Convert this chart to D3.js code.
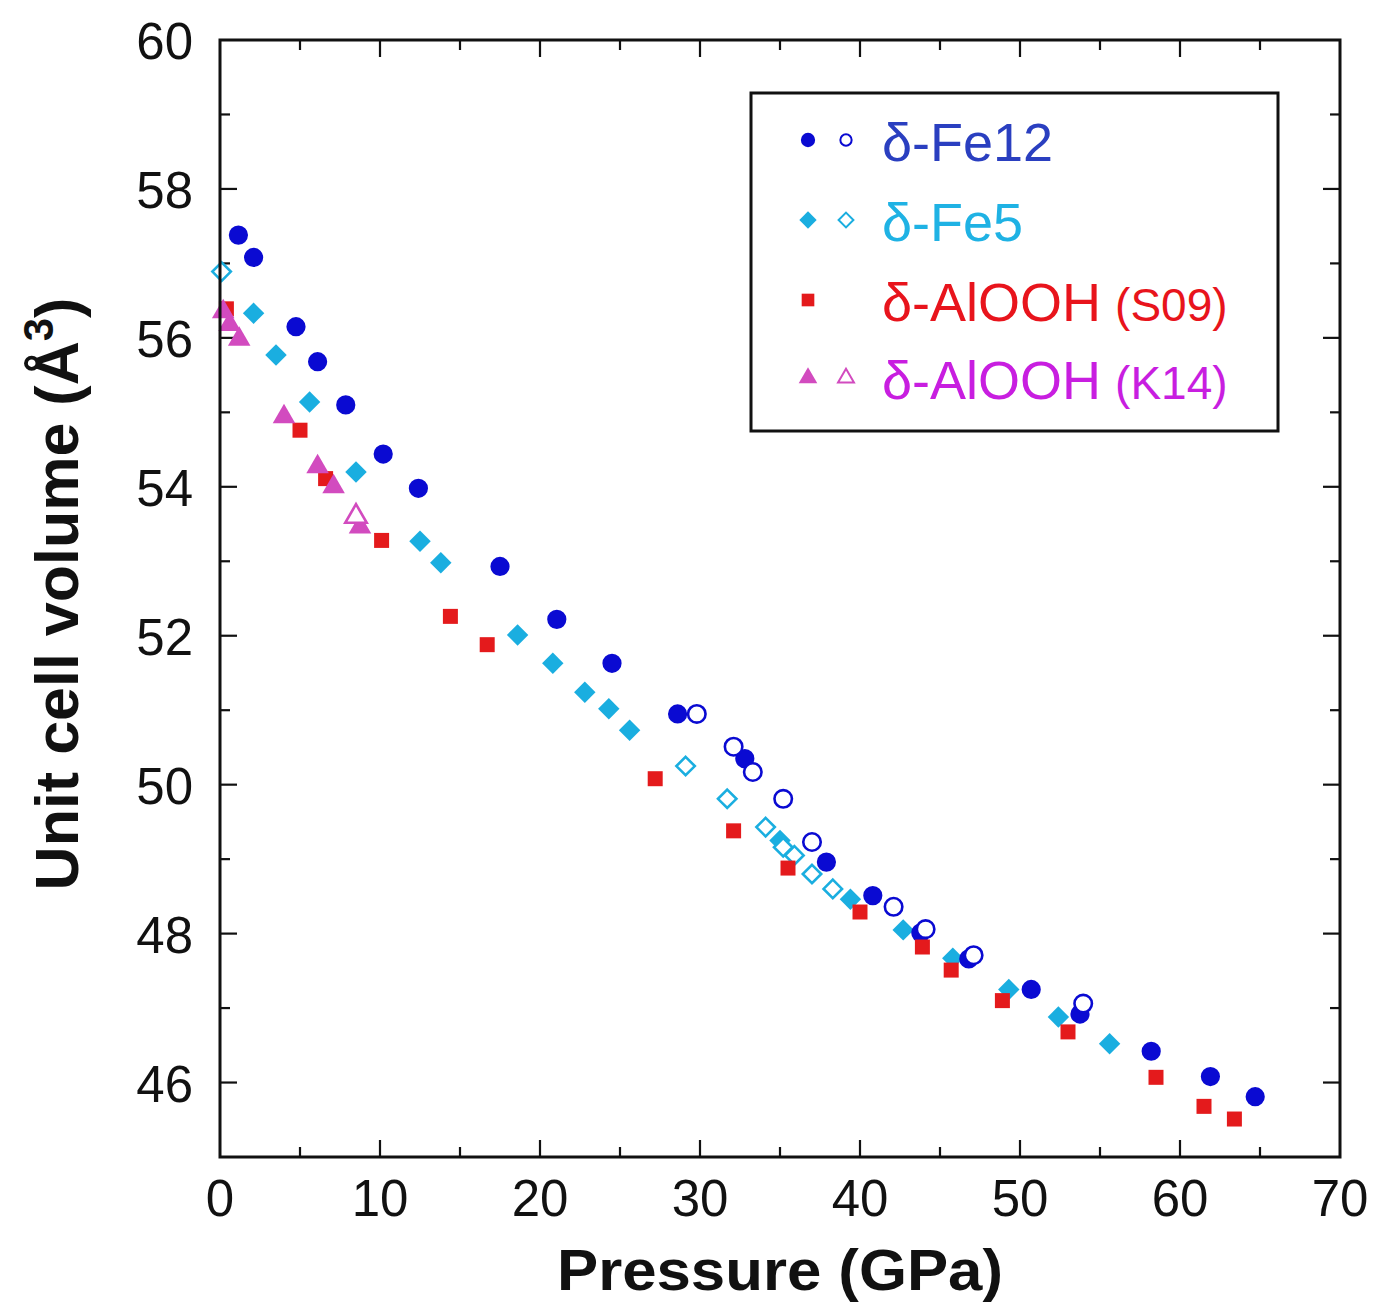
<!DOCTYPE html>
<html>
<head>
<meta charset="utf-8">
<script src="https://cdn.jsdelivr.net/npm/d3@7"></script>
<style>
  html, body { margin: 0; padding: 0; background: #fff; }
  svg { display: block; font-family: "Liberation Sans", Arial, sans-serif; }
</style>
</head>
<body>
<svg id="chart" width="1374" height="1307"></svg>
<script>
// Unit cell volume of δ-phase oxyhydroxides against pressure.
// Each array holds [pressure (GPa), volume (Å^3)] pairs.
const fe12Filled = [
  [1.15, 57.38], [2.1, 57.08], [4.75, 56.15], [6.1, 55.68], [7.86, 55.10],
  [10.2, 54.44], [12.4, 53.98], [17.5, 52.93], [21.05, 52.22], [24.5, 51.63],
  [28.6, 50.95], [32.8, 50.35], [37.9, 48.96], [40.8, 48.51], [43.8, 48.01],
  [46.8, 47.66], [50.7, 47.25], [53.75, 46.92], [58.2, 46.42], [61.9, 46.08],
  [64.7, 45.81]
];
const fe12Open = [
  [29.8, 50.95], [32.1, 50.51], [33.3, 50.17], [35.2, 49.81], [37.0, 49.23],
  [42.1, 48.36], [44.1, 48.06], [47.1, 47.71], [53.95, 47.06]
];
const fe5Filled = [
  [2.1, 56.33], [3.5, 55.77], [5.6, 55.14], [8.5, 54.20], [12.5, 53.27],
  [13.8, 52.98], [18.6, 52.01], [20.8, 51.63], [22.8, 51.24], [24.3, 51.02],
  [25.6, 50.73], [35.0, 49.25], [39.4, 48.46], [42.7, 48.05], [45.8, 47.67],
  [49.3, 47.25], [52.4, 46.88], [55.6, 46.52]
];
const fe5Open = [
  [0.1, 56.89], [29.1, 50.25], [31.7, 49.81], [34.1, 49.43], [35.2, 49.16],
  [35.9, 49.05], [37.0, 48.80], [38.3, 48.60]
];
const s09Filled = [
  [0.4, 56.39], [5.0, 54.76], [6.6, 54.11], [10.1, 53.28], [14.4, 52.26],
  [16.7, 51.88], [27.2, 50.08], [32.1, 49.38], [35.5, 48.88], [40.0, 48.29],
  [43.9, 47.82], [45.7, 47.51], [48.9, 47.10], [53.0, 46.68], [58.5, 46.07],
  [61.5, 45.68], [63.4, 45.51]
];
const k14Filled = [
  [0.2, 56.35], [0.6, 56.18], [1.2, 55.98], [4.0, 54.94], [6.1, 54.27],
  [7.1, 54.00], [8.75, 53.46]
];
const k14Open = [
  [8.5, 53.60]
];

const xTicks = [0, 10, 20, 30, 40, 50, 60, 70];
const yTicks = [46, 48, 50, 52, 54, 56, 58, 60];

const legendItems = [
  { label: "δ-Fe12", note: "", color: "#2a3fc0" },
  { label: "δ-Fe5", note: "", color: "#1fb2e4" },
  { label: "δ-AlOOH", note: "(S09)", color: "#e8141c" },
  { label: "δ-AlOOH", note: "(K14)", color: "#c81ee0" }
];

const C_FE12 = "#0a0ad2";
const C_FE5 = "#1aaee0";
const C_S09 = "#e41a1c";
const C_K14 = "#d24bbf";

const svg = d3.select("#chart");
const plotL = 220, plotR = 1340, plotT = 40, plotB = 1157;

const x = d3.scaleLinear().domain([0, 70]).range([plotL, plotR]);
const y = d3.scaleLinear().domain([45, 60]).range([plotB, plotT]);

// Square rotated by 45° (equal diagonals), used for the δ-Fe5 points
const symbolRhomb = {
  draw(ctx, size) {
    const h = Math.sqrt(size / 2);
    ctx.moveTo(0, -h); ctx.lineTo(h, 0); ctx.lineTo(0, h); ctx.lineTo(-h, 0); ctx.closePath();
  }
};

// Tick marks on all four sides, pointing inward
const axisG = svg.append("g");
const tickStyle = sel => sel.attr("stroke", "#111").attr("stroke-width", 2.2);
const MAJ = 17, MIN = 10;

d3.range(5, 70, 5).forEach(v => {
  const len = v % 10 === 0 ? MAJ : MIN;
  axisG.append("line").attr("x1", x(v)).attr("x2", x(v)).attr("y1", plotB).attr("y2", plotB - len).call(tickStyle);
  axisG.append("line").attr("x1", x(v)).attr("x2", x(v)).attr("y1", plotT).attr("y2", plotT + len).call(tickStyle);
});
d3.range(46, 60, 1).forEach(v => {
  const len = v % 2 === 0 ? MAJ : MIN;
  axisG.append("line").attr("x1", plotL).attr("x2", plotL + len).attr("y1", y(v)).attr("y2", y(v)).call(tickStyle);
  axisG.append("line").attr("x1", plotR).attr("x2", plotR - len).attr("y1", y(v)).attr("y2", y(v)).call(tickStyle);
});

// Tick labels
axisG.selectAll(".xl").data(xTicks).join("text")
  .attr("class", "xl")
  .attr("x", d => x(d)).attr("y", 1216)
  .attr("text-anchor", "middle").attr("font-size", 51).attr("fill", "#111")
  .text(d => d);
axisG.selectAll(".yl").data(yTicks).join("text")
  .attr("class", "yl")
  .attr("x", 193).attr("y", d => y(d) + 19)
  .attr("text-anchor", "end").attr("font-size", 51).attr("fill", "#111")
  .text(d => d);

// Axis titles
svg.append("text")
  .attr("x", 780).attr("y", 1290).attr("text-anchor", "middle")
  .attr("font-size", 58).attr("font-weight", "bold").attr("fill", "#111")
  .attr("textLength", 446).attr("lengthAdjust", "spacingAndGlyphs")
  .text("Pressure (GPa)");

const yTitle = svg.append("text")
  .attr("transform", "translate(78,594) rotate(-90)")
  .attr("text-anchor", "middle")
  .attr("font-size", 61).attr("font-weight", "bold").attr("fill", "#111");
yTitle.append("tspan").text("Unit cell volume (Å");
yTitle.append("tspan").attr("font-size", 42).attr("dy", -25).text("3");
yTitle.append("tspan").attr("dy", 25).text(")");

// Data markers
const sym = (type, size) => d3.symbol().type(type).size(size)();
const plotG = svg.append("g");

function drawSeries(data, type, size, fill, stroke, sw) {
  plotG.append("g").selectAll("path").data(data).join("path")
    .attr("transform", d => `translate(${x(d[0])},${y(d[1])})`)
    .attr("d", sym(type, size))
    .attr("fill", fill)
    .attr("stroke", stroke)
    .attr("stroke-width", sw);
}

drawSeries(fe5Filled, symbolRhomb, 230, C_FE5, "none", 0);
drawSeries(fe5Open, symbolRhomb, 170, "#fff", C_FE5, 2.6);
drawSeries(fe12Filled, d3.symbolCircle, 290, C_FE12, "none", 0);
drawSeries(fe12Open, d3.symbolCircle, 240, "#fff", C_FE12, 2.6);
drawSeries(s09Filled, d3.symbolSquare, 225, C_S09, "none", 0);
drawSeries(k14Filled, d3.symbolTriangle, 220, C_K14, "none", 0);
drawSeries(k14Open, d3.symbolTriangle, 200, "#fff", C_K14, 2.6);

// Frame
svg.append("rect")
  .attr("x", plotL).attr("y", plotT).attr("width", plotR - plotL).attr("height", plotB - plotT)
  .attr("fill", "none").attr("stroke", "#111").attr("stroke-width", 3);

// Legend
const lg = svg.append("g");
lg.append("rect")
  .attr("x", 751).attr("y", 93).attr("width", 527).attr("height", 338)
  .attr("fill", "#fff").attr("stroke", "#111").attr("stroke-width", 3);

const rowY = [140, 220, 300, 378];
const legendMarks = [
  [[d3.symbolCircle, 160, C_FE12, "none", 0], [d3.symbolCircle, 100, "#fff", C_FE12, 2]],
  [[symbolRhomb, 150, C_FE5, "none", 0], [symbolRhomb, 110, "#fff", C_FE5, 2]],
  [[d3.symbolSquare, 160, C_S09, "none", 0]],
  [[d3.symbolTriangle, 150, C_K14, "none", 0], [d3.symbolTriangle, 110, "#fff", C_K14, 2]]
];
legendMarks.forEach((marks, i) => {
  marks.forEach((m, j) => {
    lg.append("path")
      .attr("transform", `translate(${j === 0 ? 808 : 846},${rowY[i]})`)
      .attr("d", sym(m[0], m[1]))
      .attr("fill", m[2]).attr("stroke", m[3]).attr("stroke-width", m[4]);
  });
});

legendItems.forEach((d, i) => {
  const t = lg.append("text")
    .attr("x", 882).attr("y", rowY[i] + 21)
    .attr("font-size", 54).attr("fill", d.color);
  t.append("tspan").text(d.label);
  if (d.note) t.append("tspan").attr("font-size", 46).attr("dx", 14).text(d.note);
});
</script>
</body>
</html>
